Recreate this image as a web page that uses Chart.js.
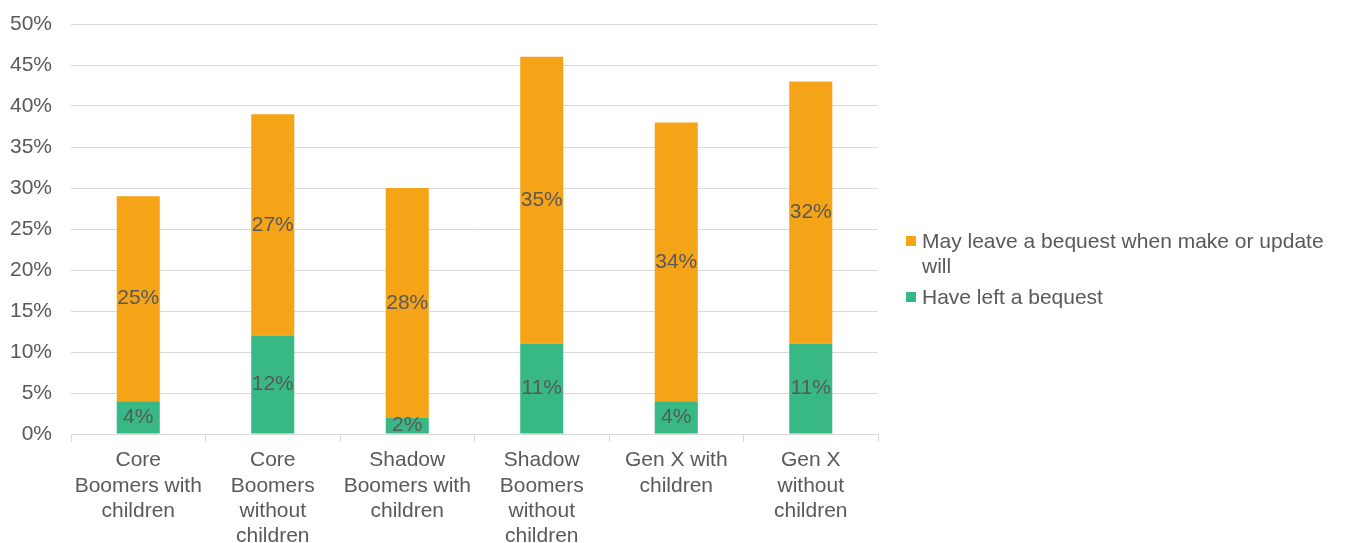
<!DOCTYPE html>
<html>
<head>
<meta charset="utf-8">
<script src="https://cdn.jsdelivr.net/npm/chart.js@4/dist/chart.umd.min.js"></script>
<style>
  html, body { margin: 0; padding: 0; background: #ffffff; }
  #wrap { position: relative; width: 1351px; height: 543px; }
  #legend { position: absolute; left: 906px; top: 228px; font-family: "Liberation Sans", Arial, sans-serif; font-size: 21px; color: #595959; }
  .item { display: flex; align-items: flex-start; margin-bottom: 6px; }
  .sw { width: 10px; height: 10px; margin-top: 8px; margin-right: 6px; flex: none; }
  .txt { width: 420px; line-height: 25px; }
</style>
</head>
<body>
<div id="wrap">
  <canvas id="c" width="1351" height="543"></canvas>
  <div id="legend"></div>
</div>
<script>
const categories = [
  ["Core", "Boomers with", "children"],
  ["Core", "Boomers", "without", "children"],
  ["Shadow", "Boomers with", "children"],
  ["Shadow", "Boomers", "without", "children"],
  ["Gen X with", "children"],
  ["Gen X", "without", "children"]
];
const haveLeft = [4, 12, 2, 11, 4, 11];
const mayLeave = [25, 27, 28, 35, 34, 32];
const seriesNames = ["Have left a bequest", "May leave a bequest when make or update will"];
const colors = ["#37B884", "#F5A317"];
const yTicks = [0, 5, 10, 15, 20, 25, 30, 35, 40, 45, 50];

const textColor = "#595959";
const fontFamily = '"Liberation Sans", Arial, sans-serif';

const dataLabels = {
  id: "dataLabels",
  afterDatasetsDraw(chart) {
    const ctx = chart.ctx;
    ctx.save();
    ctx.font = "21px " + fontFamily;
    ctx.fillStyle = textColor;
    ctx.textAlign = "center";
    ctx.textBaseline = "middle";
    chart.data.datasets.forEach((ds, i) => {
      const meta = chart.getDatasetMeta(i);
      meta.data.forEach((el, j) => {
        const p = el.getCenterPoint();
        ctx.fillText(ds.data[j] + "%", p.x, p.y);
      });
    });
    ctx.restore();
  }
};

const chart = new Chart(document.getElementById("c"), {
  type: "bar",
  data: {
    labels: categories,
    datasets: [
      { label: seriesNames[0], data: haveLeft, backgroundColor: colors[0], barPercentage: 0.64, categoryPercentage: 0.5 },
      { label: seriesNames[1], data: mayLeave, backgroundColor: colors[1], barPercentage: 0.64, categoryPercentage: 0.5 }
    ]
  },
  options: {
    responsive: false,
    animation: false,
    layout: { padding: { left: 10, right: 473, top: 24, bottom: 0 } },
    plugins: { legend: { display: false }, tooltip: { enabled: false } },
    scales: {
      x: {
        stacked: true,
        afterFit(axis) { axis.height = 109; axis.paddingLeft = 0; axis.paddingRight = 0; },
        grid: { drawOnChartArea: false, drawTicks: true, tickLength: 8, color: "#d9d9d9", offset: true },
        border: { color: "#d9d9d9" },
        ticks: { color: textColor, font: { family: fontFamily, size: 21, lineHeight: 1.2 }, padding: 6, maxRotation: 0, autoSkip: false }
      },
      y: {
        stacked: true,
        min: 0, max: 50,
        afterFit(axis) { axis.width = 61; axis.paddingTop = 0; axis.paddingBottom = 0; },
        afterBuildTicks(axis) { axis.ticks = yTicks.map(v => ({ value: v })); },
        grid: { color: "#d9d9d9", drawTicks: false },
        border: { display: false },
        ticks: { color: textColor, font: { family: fontFamily, size: 21 }, padding: 19, callback: v => v + "%" }
      }
    }
  },
  plugins: [dataLabels]
});

const legend = document.getElementById("legend");
[1, 0].forEach(i => {
  const item = document.createElement("div");
  item.className = "item";
  const sw = document.createElement("div");
  sw.className = "sw";
  sw.style.background = colors[i];
  const t = document.createElement("div");
  t.className = "txt";
  t.textContent = seriesNames[i];
  item.appendChild(sw);
  item.appendChild(t);
  legend.appendChild(item);
});
</script>
</body>
</html>
